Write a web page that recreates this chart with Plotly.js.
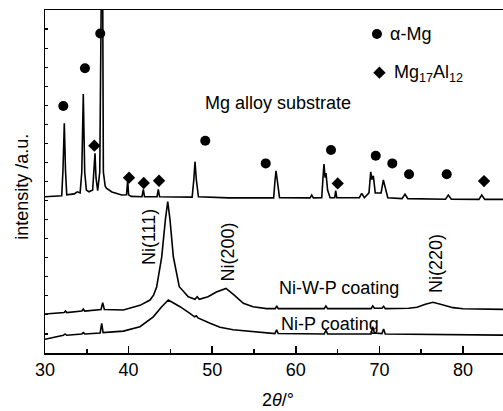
<!DOCTYPE html>
<html>
<head>
<meta charset="utf-8">
<script src="https://cdn.plot.ly/plotly-3.0.1.min.js"></script>
<style>html,body{margin:0;padding:0;background:#fff;}#chart{width:503px;height:411px;}</style>
</head>
<body>
<div id="chart"></div>
<script>
// 2theta (deg) and intensity (a.u., offset) for each pattern
var substrateX = [30.0,31.6,32.0,32.15,32.31,32.45,32.6,33.5,33.86,34.2,34.4,34.58,34.75,34.95,35.26,35.7,35.85,35.98,36.1,36.3,36.55,36.72,36.85,36.98,37.2,37.38,38.0,39.17,39.75,39.89,40.0,40.3,41.6,41.76,41.9,43.4,43.55,43.7,45.5,47.6,47.8,47.94,48.1,48.35,52.0,55.0,57.35,57.5,57.63,57.8,58.05,61.7,61.9,62.1,63.1,63.25,63.37,63.5,63.61,63.8,64.1,64.65,64.77,64.9,67.6,67.88,68.2,68.75,68.96,69.1,69.27,69.5,70.2,70.47,70.7,71.0,72.7,73.06,73.4,77.9,78.24,78.6,81.9,82.24,82.6,84.78];
var substrateY = [8.20,8.22,8.25,9.6,12.05,9.6,8.30,8.35,8.46,8.40,9.5,13.59,9.5,8.55,8.46,8.55,9.6,10.48,9.2,8.52,9.5,25,25,9.5,8.75,8.64,8.45,8.29,8.30,9.08,8.30,8.22,8.20,8.59,8.20,8.20,8.59,8.20,8.18,8.18,9.1,10.04,9.1,8.20,8.14,8.12,8.14,9.0,9.56,9.0,8.15,8.14,8.29,8.14,8.15,9.2,9.92,9.2,9.44,8.55,8.15,8.15,8.52,8.15,8.15,8.38,8.15,8.4,9.51,9.1,9.3,8.4,8.4,9.08,8.6,8.15,8.10,8.33,8.10,8.07,8.29,8.07,8.06,8.29,8.06,8.06];

var niwpX = [30.0,32.3,32.45,32.6,34.4,34.58,34.75,36.7,36.9,37.1,39.37,41.36,42.56,43.0,43.36,43.96,44.4,44.68,44.95,45.35,46.06,47.14,47.94,48.2,48.45,49.5,50.5,51.65,52.6,53.72,54.88,56.5,57.55,57.72,57.9,63.4,63.6,63.8,69.0,69.2,69.4,70.3,70.5,70.7,73.5,74.5,75.5,76.4,77.3,78.8,80.0,84.78];
var niwpY = [2.05,2.12,2.2,2.12,2.20,2.30,2.20,2.28,2.64,2.28,2.26,2.5,2.78,3.05,3.48,5.05,7.0,7.94,7.0,5.05,3.48,2.95,2.82,2.95,2.82,2.95,3.2,3.39,3.05,2.61,2.43,2.33,2.33,2.47,2.33,2.33,2.47,2.33,2.33,2.47,2.35,2.35,2.45,2.33,2.35,2.40,2.56,2.66,2.56,2.38,2.32,2.29];

var nipX = [30.0,31.5,32.2,32.4,32.6,34.4,34.58,34.75,36.6,36.78,36.95,39.37,41.36,42.95,43.96,44.75,45.4,46.15,47.2,47.9,48.1,48.3,49.74,50.93,52.5,54.9,57.5,57.7,57.9,63.4,63.6,63.8,69.0,69.2,69.4,70.3,70.5,70.7,76.0,84.78];
var nipY = [0.72,0.85,0.93,1.0,0.93,1.00,1.07,1.00,1.05,1.56,1.07,1.15,1.38,1.90,2.43,2.78,2.62,2.43,2.12,1.9,1.95,1.84,1.56,1.35,1.22,1.12,1.02,1.21,1.02,1.0,1.21,1.0,1.0,1.38,1.05,1.02,1.26,1.0,0.98,0.94];

// phase markers
var alphaMgX = [32.19,34.78,36.61,49.17,56.40,64.21,69.56,71.54,73.54,78.05];
var alphaMgY = [12.96,14.94,16.77,11.14,9.95,10.65,10.35,9.95,9.38,9.38];
var mg17X = [35.90,40.05,41.81,43.64,65.01,82.51];
var mg17Y = [10.88,9.20,8.92,9.04,8.90,9.02];

// key symbols
var keyCircle = {x:[69.7], y:[16.74]};
var keyDiamond = {x:[70.0], y:[14.71]};

// tick values
var xTicks = [30,40,50,60,70,80];
var xTickText = ['30','40','50','60','70','80'];

var FONT = 'Liberation Sans, Arial, sans-serif';
var lineStyle = {color:'#000', width:1.6};

var traces = [
  {x:substrateX, y:substrateY, mode:'lines', line:lineStyle, hoverinfo:'skip'},
  {x:niwpX, y:niwpY, mode:'lines', line:lineStyle, hoverinfo:'skip'},
  {x:nipX, y:nipY, mode:'lines', line:lineStyle, hoverinfo:'skip'},
  {x:alphaMgX, y:alphaMgY, mode:'markers', marker:{symbol:'circle', size:10, color:'#000'}},
  {x:mg17X, y:mg17Y, mode:'markers', marker:{symbol:'diamond', size:9.5, color:'#000'}},
  {x:keyCircle.x, y:keyCircle.y, mode:'markers', marker:{symbol:'circle', size:10, color:'#000'}},
  {x:keyDiamond.x, y:keyDiamond.y, mode:'markers', marker:{symbol:'diamond', size:9.5, color:'#000'}}
];

var tf = {family:FONT, size:18, color:'#000'};
var annotations = [
  {x:48.94, y:13.12, text:'Mg alloy substrate', xanchor:'left', yanchor:'middle', showarrow:false, font:tf},
  {x:57.72, y:3.39, text:'Ni-W-P coating', xanchor:'left', yanchor:'middle', showarrow:false, font:tf},
  {x:57.99, y:1.52, text:'Ni-P coating', xanchor:'left', yanchor:'middle', showarrow:false, font:tf},
  {x:42.36, y:6.10, text:'Ni(111)', textangle:-90, showarrow:false, font:tf},
  {x:51.85, y:5.31, text:'Ni(200)', textangle:-90, showarrow:false, font:tf},
  {x:76.77, y:4.67, text:'Ni(220)', textangle:-90, showarrow:false, font:tf},
  {x:71.0, y:16.74, text:'α-Mg', xanchor:'left', yanchor:'middle', showarrow:false, font:tf},
  {x:71.5, y:14.69, text:'Mg<sub>17</sub>Al<sub>12</sub>', xanchor:'left', yanchor:'middle', showarrow:false, font:tf},
  {xref:'paper', yref:'paper', x:0.509, y:-0.137, text:'2<i>θ</i>/°', showarrow:false, font:tf, xanchor:'center', yanchor:'middle'},
  {xref:'paper', yref:'paper', x:-0.05, y:0.485, text:'intensity /a.u.', textangle:-90, showarrow:false, font:tf, xanchor:'center', yanchor:'middle'}
];

var layout = {
  width:503, height:411,
  margin:{l:45, r:0, t:10, b:58},
  paper_bgcolor:'#fff', plot_bgcolor:'#fff',
  showlegend:false,
  font:{family:FONT, size:18, color:'#000'},
  xaxis:{range:[30,84.78], tickvals:xTicks, ticktext:xTickText, ticks:'inside', ticklen:7, tickwidth:1.5, tickcolor:'#000',
         minor:{dtick:5, tick0:0, ticks:'inside', ticklen:4, tickwidth:1.5, tickcolor:'#000', showgrid:false},
         showline:true, linewidth:1.5, linecolor:'#000', mirror:true, showgrid:false, zeroline:false,
         tickfont:{family:FONT, size:18, color:'#000'}},
  yaxis:{range:[0,18], dtick:1, tick0:0, ticks:'inside', ticklen:3, tickwidth:1.2, tickcolor:'#000',
         showticklabels:false, showline:true, linewidth:1.5, linecolor:'#000', showgrid:false, zeroline:false},
  annotations:annotations
};

Plotly.newPlot('chart', traces, layout, {staticPlot:true, displayModeBar:false});
</script>
</body>
</html>
